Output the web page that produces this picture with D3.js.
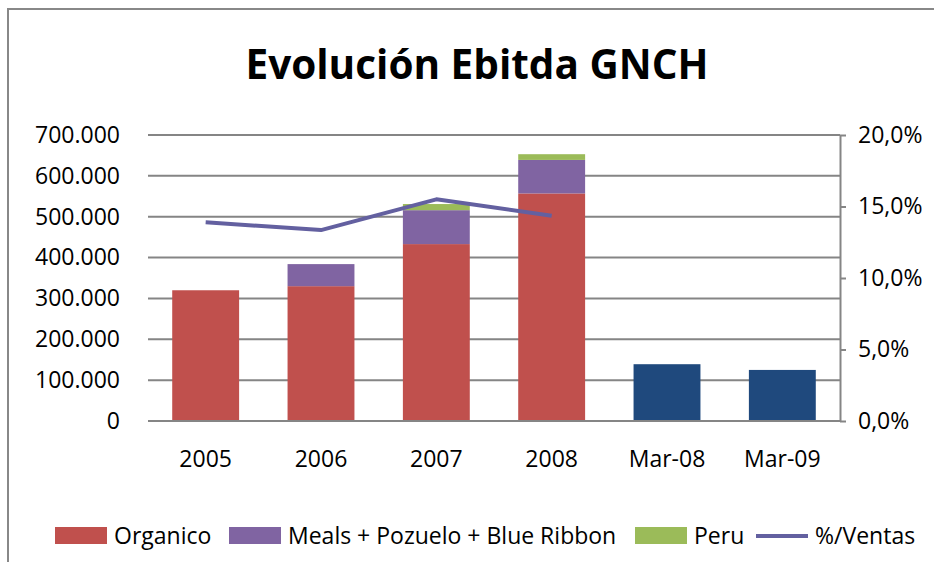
<!DOCTYPE html>
<html>
<head>
<meta charset="utf-8">
<script src="https://cdn.jsdelivr.net/npm/d3@7"></script>
<style>
  body { margin: 0; background: #fff; }
  svg { display: block; font-family: "Open Sans", sans-serif; }
</style>
</head>
<body>
<div id="chart"></div>
<script>
// values
const categories = ['2005', '2006', '2007', '2008', 'Mar-08', 'Mar-09'];
const organico = [320000, 330000, 433000, 557000, null, null];
const meals = [0, 54000, 83000, 82000, null, null];
const peru = [0, 0, 15000, 14000, null, null];
const marzo = [null, null, null, null, 139000, 125000];
const ventasPct = [0.139, 0.1335, 0.155, 0.1435];
const leftTicks = [0, 100000, 200000, 300000, 400000, 500000, 600000, 700000];
const rightTicks = [0, 0.05, 0.10, 0.15, 0.20];

const colors = {
    organico: '#C0504D',
    meals: '#8064A2',
    peru: '#9BBB59',
    marzo: '#1F497D',
    line: '#6360A0',
    grid: '#858585'
};

const width = 934, height = 562;
const margin = {top: 135, right: 94, bottom: 141, left: 148};
const fs = 23;

const loc = d3.formatLocale({decimal: ',', thousands: '.', grouping: [3], currency: ['', '']});
const fmtLeft = loc.format(',.0f');
const fmtRight = loc.format('.1%');

const svg = d3.select('#chart').append('svg')
    .attr('width', width)
    .attr('height', height);

// outer frame (right and bottom edges run off the picture)
svg.append('rect')
    .attr('x', 8).attr('y', 9)
    .attr('width', 1000).attr('height', 1000)
    .attr('fill', 'none')
    .attr('stroke', '#888')
    .attr('stroke-width', 2);

const x = d3.scaleBand()
    .domain(categories)
    .range([margin.left, width - margin.right])
    .paddingInner(0.42)
    .paddingOuter(0.21);

const y = d3.scaleLinear()
    .domain([0, 700000])
    .range([height - margin.bottom, margin.top]);

const y2 = d3.scaleLinear()
    .domain([0, 0.2])
    .range([height - margin.bottom, margin.top]);

// gridlines
svg.append('g')
    .selectAll('line')
    .data(leftTicks)
    .join('line')
    .attr('x1', margin.left)
    .attr('x2', width - margin.right)
    .attr('y1', d => y(d))
    .attr('y2', d => y(d))
    .attr('stroke', colors.grid)
    .attr('stroke-width', 2);

// left labels
svg.append('g')
    .attr('transform', `translate(${margin.left},0)`)
    .call(d3.axisLeft(y).tickValues(leftTicks).tickFormat(fmtLeft).tickSize(0).tickPadding(28))
    .call(g => g.select('.domain').remove())
    .call(g => g.selectAll('text').attr('font-size', fs).attr('fill', '#000').attr('font-family', '"Open Sans", sans-serif'));

// right axis
svg.append('g')
    .attr('transform', `translate(${width - margin.right},0)`)
    .call(d3.axisRight(y2).tickValues(rightTicks).tickFormat(fmtRight).tickSize(6).tickSizeOuter(0).tickPadding(12))
    .call(g => g.select('.domain').attr('stroke', colors.grid).attr('stroke-width', 2))
    .call(g => g.selectAll('.tick line').attr('stroke', colors.grid).attr('stroke-width', 2))
    .call(g => g.selectAll('text').attr('font-size', fs).attr('fill', '#000').attr('font-family', '"Open Sans", sans-serif'));

// stacked bars
const stackData = categories.map((c, i) => ({cat: c, organico: organico[i] || 0, meals: meals[i] || 0, peru: peru[i] || 0}));
const series = d3.stack().keys(['organico', 'meals', 'peru'])(stackData);

svg.append('g')
    .selectAll('g')
    .data(series)
    .join('g')
    .attr('fill', d => colors[d.key])
    .selectAll('rect')
    .data(d => d.filter(p => p[1] > p[0]))
    .join('rect')
    .attr('x', d => x(d.data.cat))
    .attr('width', x.bandwidth())
    .attr('y', d => y(d[1]))
    .attr('height', d => y(d[0]) - y(d[1]));

svg.append('g')
    .selectAll('rect')
    .data(categories.map((c, i) => ({cat: c, v: marzo[i]})).filter(d => d.v != null))
    .join('rect')
    .attr('x', d => x(d.cat))
    .attr('width', x.bandwidth())
    .attr('y', d => y(d.v))
    .attr('height', d => y(0) - y(d.v))
    .attr('fill', colors.marzo);

// bottom axis
svg.append('g')
    .attr('transform', `translate(0,${height - margin.bottom})`)
    .call(d3.axisBottom(x).tickSize(0).tickPadding(30))
    .call(g => g.select('.domain').attr('stroke', colors.grid).attr('stroke-width', 2).attr('d', `M${margin.left},0H${width - margin.right}`))
    .call(g => g.selectAll('text').attr('font-size', fs).attr('fill', '#000').attr('font-family', '"Open Sans", sans-serif'));

// % line
const line = d3.line()
    .x((d, i) => x(categories[i]) + x.bandwidth() / 2)
    .y(d => y2(d));

svg.append('path')
    .datum(ventasPct)
    .attr('fill', 'none')
    .attr('stroke', colors.line)
    .attr('stroke-width', 4)
    .attr('stroke-linejoin', 'round')
    .attr('d', line);

// title
svg.append('text')
    .attr('x', 477)
    .attr('y', 79)
    .attr('text-anchor', 'middle')
    .attr('font-size', 40.5)
    .attr('font-weight', 'bold')
    .text('Evolución Ebitda GNCH');

// legend
const legendItems = [
    {label: 'Organico', color: colors.organico, type: 'rect', x: 55},
    {label: 'Meals + Pozuelo + Blue Ribbon', color: colors.meals, type: 'rect', x: 229},
    {label: 'Peru', color: colors.peru, type: 'rect', x: 635},
    {label: '%/Ventas', color: colors.line, type: 'line', x: 756}
];

const legend = svg.append('g').attr('transform', 'translate(0,536)');
const li = legend.selectAll('g')
    .data(legendItems)
    .join('g')
    .attr('transform', d => `translate(${d.x},0)`);

li.filter(d => d.type === 'rect').append('rect')
    .attr('y', -9).attr('width', 52).attr('height', 17)
    .attr('fill', d => d.color);

li.filter(d => d.type === 'line').append('line')
    .attr('x1', 0).attr('x2', 52)
    .attr('stroke', d => d.color)
    .attr('stroke-width', 4);

li.append('text')
    .attr('x', 59)
    .attr('y', 8)
    .attr('font-size', fs)
    .text(d => d.label);
</script>
</body>
</html>
